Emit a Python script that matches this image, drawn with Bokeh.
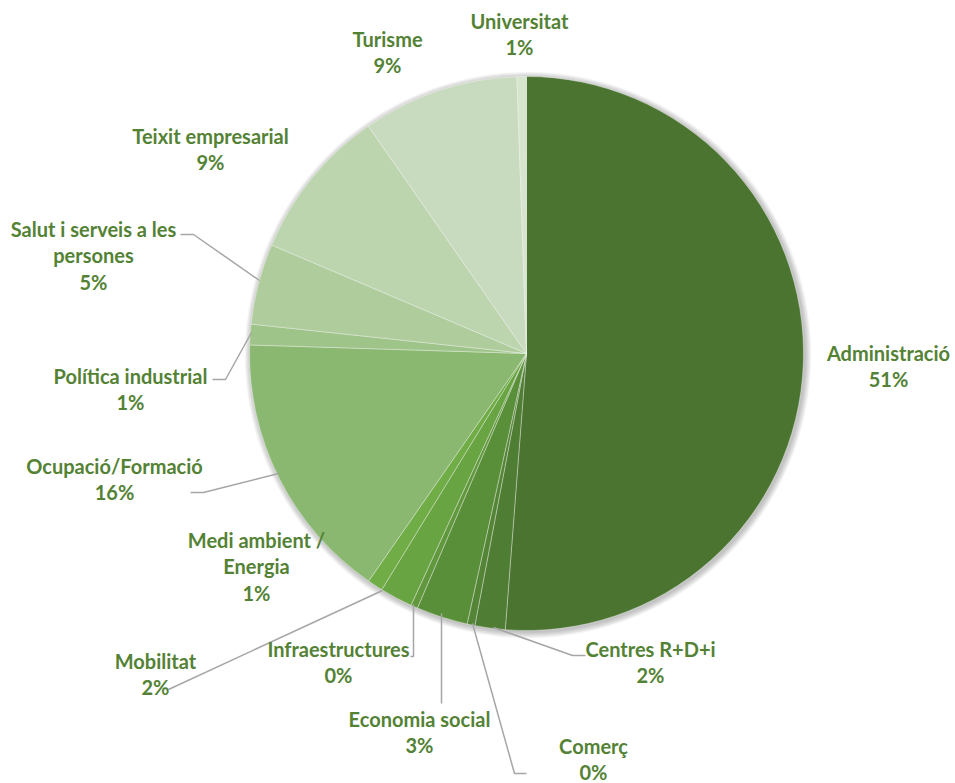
import math
from bokeh.plotting import figure
from bokeh.models import Range1d
from bokeh.core.properties import value
from bokeh.embed import file_html
from bokeh.resources import INLINE

# ---- data (clockwise from 12 o'clock) ----
categories = ["Administració", "Centres R+D+i", "Comerç", "Economia social",
              "Infraestructures", "Mobilitat", "Medi ambient /\nEnergia",
              "Ocupació/Formació", "Política industrial",
              "Salut i serveis a les\npersones", "Teixit empresarial",
              "Turisme", "Universitat"]
values = [51.1, 1.76, 0.45, 3.0, 0.4, 1.9, 0.9, 15.8, 1.2, 4.7, 8.9, 9.1, 0.55]
colors = ["#4A7430", "#4F7D33", "#548536", "#5A8F3A", "#61983E", "#69A443",
          "#70AD47", "#8AB870", "#9EC489", "#AFCC9D", "#BDD5AE", "#C9DBBF",
          "#D7E5CE"]

# ---- layout (page pixel coordinates) ----
W, H = 955, 783
def Y(py):
    return H - py

cx, cy, R = 526, Y(353), 277

# label anchor (center x, y of first line) in page px
label_pos = [(888, 352), (650, 648), (593, 745), (419, 718), (338, 648),
             (155, 660), (256, 539), (114, 465), (130, 375), (93, 228),
             (210, 135), (387, 38), (519, 20)]
line_h = 26.5

# leader lines (page px polylines)
leaders = [
    None,
    [(493, 627), (572, 655), (585, 655)],
    [(472, 623), (514, 773), (526, 773)],
    [(441, 613), (441, 703)],
    [(413, 604), (413, 656), (410, 656)],
    [(382, 590), (168, 689)],
    None,
    [(278, 473), (203, 492), (190, 492)],
    [(251, 332), (225, 379), (212, 379)],
    [(259, 280), (193, 234), (180, 234)],
    None, None, None,
]

p = figure(width=W, height=H, x_range=Range1d(0, W), y_range=Range1d(0, H),
           output_backend="svg", toolbar_location=None, min_border=0)
p.axis.visible = False
p.grid.visible = False
p.outline_line_color = None
p.background_fill_color = "white"

# soft shadow
for k in range(1, 8):
    p.circle(x=cx + 1.5, y=cy - 1.5, radius=R + k * 0.9, fill_color="black",
             fill_alpha=0.035, line_color=None)

total = sum(values)
cum = 0.0
for v, c in zip(values, colors):
    c0 = cum / total
    cum += v
    c1 = cum / total
    a_start = math.radians(90 - 360 * c1)
    a_end = math.radians(90 - 360 * c0)
    p.wedge(x=cx, y=cy, radius=R, start_angle=a_start, end_angle=a_end,
            direction="anticlock", fill_color=c, line_color="white",
            line_width=0.6, line_alpha=0.6)

for ld in leaders:
    if ld:
        p.line(x=[q[0] for q in ld], y=[Y(q[1]) for q in ld],
               line_color="#A6A6A6", line_width=1.5)

for name, v, (lx, ly) in zip(categories, values, label_pos):
    pct = f"{round(v / total * 100)}%"
    lines = name.split("\n") + [pct]
    xs = [lx] * len(lines)
    ys = [Y(ly + i * line_h) for i in range(len(lines))]
    p.text(x=xs, y=ys, text=lines, text_font=value("Lato"),
           text_font_style="bold", text_font_size="20px",
           text_color="#548235", text_align="center", text_baseline="middle")

open("out.html", "w").write(file_html(p, INLINE))
